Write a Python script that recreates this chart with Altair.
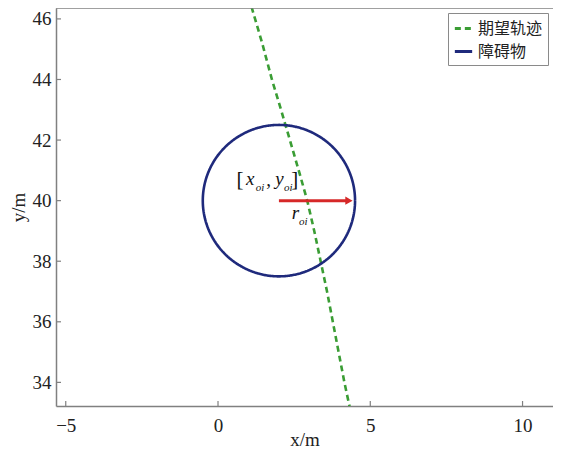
import altair as alt
import pandas as pd
import numpy as np

# Desired trajectory
traj_x = [1.10, 1.45, 1.77, 2.07, 2.36, 2.65, 2.93, 3.16, 3.37, 3.58, 3.77, 3.96, 4.15, 4.32]
traj_y = [46.4, 45.2, 44.0, 43.0, 42.0, 41.0, 40.0, 39.0, 38.0, 37.0, 36.0, 35.0, 34.0, 33.2]

# Obstacle
obs_cx, obs_cy, obs_r = 2.0, 40.0, 2.5
arrow_x = [2.0, 4.3]
arrow_y = [40.0, 40.0]

series_names = ["期望轨迹", "障碍物"]
x_ticks = [-5, 0, 5, 10]
y_ticks = [34, 36, 38, 40, 42, 44, 46]

X_DOM = [-5.32, 11.0]
Y_DOM = [33.22, 46.36]
W, H = 497, 398
SERIF = "Liberation Serif"

traj = pd.DataFrame({"x": traj_x, "y": traj_y, "s": series_names[0],
                     "o": list(range(len(traj_x)))})
th = np.linspace(0, 2 * np.pi, 181)
circ = pd.DataFrame({"x": obs_cx + obs_r * np.cos(th), "y": obs_cy + obs_r * np.sin(th),
                     "s": series_names[1], "o": list(range(len(th)))})
lines = pd.concat([traj, circ], ignore_index=True)

xs = alt.Scale(domain=X_DOM, nice=False, zero=False)
ys = alt.Scale(domain=Y_DOM, nice=False, zero=False)

axis_common = dict(grid=False, domainColor="#808080", domainWidth=1.5, ticks=False,
                   labelFont=SERIF, titleFont=SERIF,
                   labelFontSize=19, labelColor="#222",
                   titleFontSize=19, titleFontWeight="normal",
                   titleColor="#222")

base_x = alt.X("x:Q", scale=xs, axis=alt.Axis(values=x_ticks, title="x/m", labelPadding=10,
                                             titleY=39, titleBaseline="alphabetic",
                                             **axis_common))
base_y = alt.Y("y:Q", scale=ys, axis=alt.Axis(values=y_ticks, title="y/m", labelPadding=5,
                                             titlePadding=4, **axis_common))

line_layer = alt.Chart(lines).mark_line(clip=True, strokeWidth=2.6).encode(
    x=base_x, y=base_y,
    color=alt.Color("s:N", scale=alt.Scale(domain=series_names, range=["#3a9d34", "#1f2a7c"]),
                    legend=alt.Legend(title=None, orient="none", legendX=392, legendY=5,
                                      strokeColor="#8a8a8a", fillColor="white", padding=5,
                                      labelFont="Noto Sans CJK SC", labelFontSize=16,
                                      labelColor="#222", symbolType="stroke", symbolSize=300,
                                      symbolStrokeWidth=3, rowPadding=4, labelOffset=4)),
    strokeDash=alt.StrokeDash("s:N", scale=alt.Scale(domain=series_names, range=[[6, 4], [1, 0]]),
                              legend=None),
    order="o:Q",
    detail="s:N",
)

arrow_df = pd.DataFrame({"x": arrow_x, "y": arrow_y})
arrow_line = alt.Chart(arrow_df).mark_line(color="#d62828", strokeWidth=3).encode(
    x=alt.X("x:Q", scale=xs), y=alt.Y("y:Q", scale=ys))
arrow_head = alt.Chart(arrow_df.iloc[[1]]).mark_point(
    shape="triangle-right", filled=True, color="#d62828", size=70, opacity=1).encode(
    x=alt.X("x:Q", scale=xs), y=alt.Y("y:Q", scale=ys))

roman = pd.DataFrame({"x": [0.72, 1.66, 2.52], "y": [40.47, 40.47, 40.47],
                      "t": ["[", ",", "]"], "sz": [21, 19, 21]})
ital = pd.DataFrame({"x": [1.06, 1.38, 2.02, 2.31, 2.54, 2.80],
                     "y": [40.52, 40.33, 40.52, 40.33, 39.38, 39.18],
                     "t": ["x", "oi", "y", "oi", "r", "oi"],
                     "sz": [19, 11, 19, 11, 19, 11]})
txt_roman = alt.Chart(roman).mark_text(font=SERIF, baseline="alphabetic",
                                       color="#111").encode(
    x=alt.X("x:Q", scale=xs), y=alt.Y("y:Q", scale=ys), text="t:N",
    size=alt.Size("sz:Q", scale=None, legend=None))
txt_ital = alt.Chart(ital).mark_text(font=SERIF, fontStyle="italic",
                                     baseline="alphabetic", color="#111").encode(
    x=alt.X("x:Q", scale=xs), y=alt.Y("y:Q", scale=ys), text="t:N",
    size=alt.Size("sz:Q", scale=None, legend=None))

xt = alt.Chart(pd.DataFrame({"x": x_ticks})).mark_rule(color="#808080", strokeWidth=1.2).encode(
    x=alt.X("x:Q", scale=xs), y=alt.value(H), y2=alt.value(H - 5))
yt = alt.Chart(pd.DataFrame({"y": y_ticks})).mark_rule(color="#808080", strokeWidth=1.2).encode(
    y=alt.Y("y:Q", scale=ys), x=alt.value(0), x2=alt.value(5))
top = alt.Chart(pd.DataFrame({"a": [0]})).mark_rule(color="#808080", strokeWidth=1.5).encode(
    y=alt.value(0), x=alt.value(0), x2=alt.value(W))

chart = alt.layer(line_layer, arrow_line, arrow_head, txt_roman, txt_ital, xt, yt, top).properties(
    width=W, height=H,
    autosize=alt.AutoSizeParams(type="none"),
    padding={"left": 48, "top": 0, "right": 0, "bottom": 42},
).configure_view(stroke=None).resolve_scale(size="independent")

chart.save("out.html", embed_options={"renderer": "svg", "actions": False})
